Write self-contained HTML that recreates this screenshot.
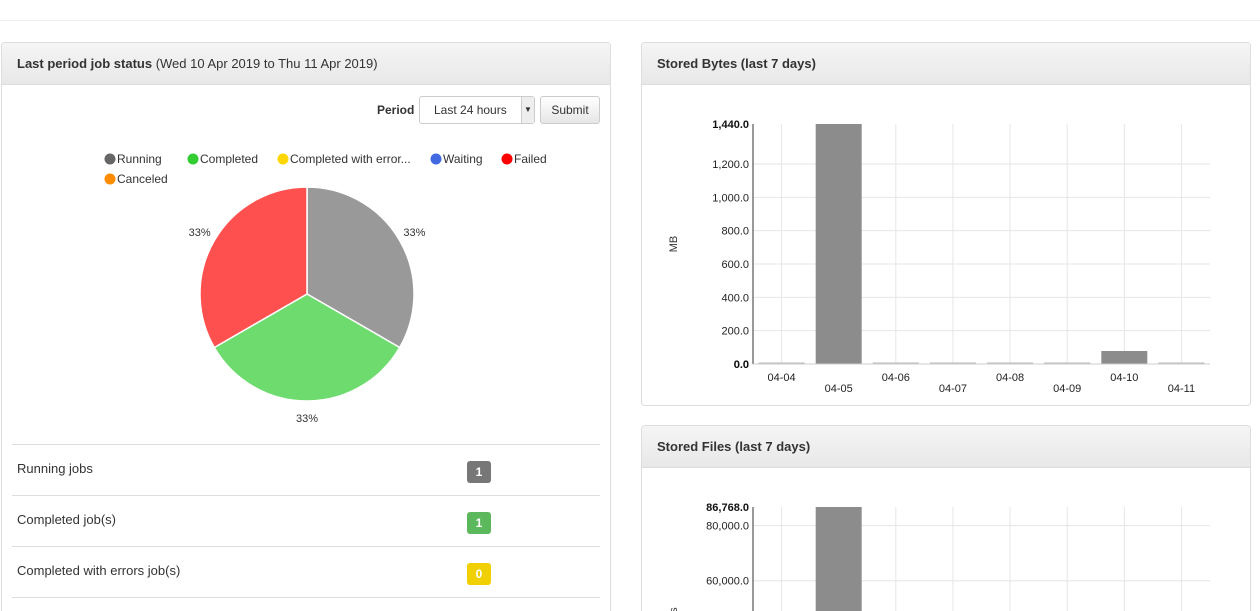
<!DOCTYPE html>
<html><head><meta charset="utf-8"><style>
html,body{margin:0;width:1260px;height:611px;overflow:hidden;background:#fff;font-family:"Liberation Sans",sans-serif;color:#333;position:relative}
.panel{position:absolute;border:1px solid #ddd;border-radius:4px;background:#fff;box-sizing:border-box;overflow:hidden}
.ph{height:41px;background:linear-gradient(#f5f5f5,#e8e8e8);border-bottom:1px solid #ddd;font-size:13px;line-height:41px;padding-left:15px;color:#333}
.ph b{font-weight:bold}
.row{position:absolute;left:10px;width:588px;border-top:1px solid #ddd;height:51px;font-size:13px}
.row span{position:absolute;left:5px;top:16px}
.badge{position:absolute;left:455px;top:16px;width:24px;height:22px;border-radius:3px;color:#fff;font-weight:bold;font-size:12px;text-align:center;line-height:22px}
svg text{font-family:"Liberation Sans",sans-serif}
</style></head><body>
<div style="position:absolute;left:0;top:20px;width:1260px;border-top:1px solid #eee"></div>

<div class="panel" style="left:1px;top:42px;width:610px;height:569px;border-bottom:none;border-radius:4px 4px 0 0">
<div class="ph"><b>Last period job status</b> (Wed 10 Apr 2019 to Thu 11 Apr 2019)</div>
<div style="position:absolute;left:375px;top:60px;font-size:12px;font-weight:bold">Period</div>
<div style="position:absolute;left:417px;top:53px;width:116px;height:28px;border:1px solid #ccc;border-radius:3px;box-sizing:border-box;font-size:12px;line-height:26px;padding-left:14px">Last 24 hours<div style="position:absolute;right:0;top:0;width:12px;height:26px;border-left:1px solid #ccc;background:#eee;font-size:8px;text-align:center">▼</div></div>
<div style="position:absolute;left:538px;top:53px;width:60px;height:28px;border:1px solid #ccc;border-radius:3px;box-sizing:border-box;font-size:12px;line-height:26px;text-align:center;background:linear-gradient(#fff,#e6e6e6)">Submit</div>
<svg width="610" height="400" style="position:absolute;left:0;top:0" id="pie"></svg>
<div class="row" style="top:401px"><span>Running jobs</span><div class="badge" style="background:#777">1</div></div>
<div class="row" style="top:452px"><span>Completed job(s)</span><div class="badge" style="background:#5cb85c">1</div></div>
<div class="row" style="top:503px"><span>Completed with errors job(s)</span><div class="badge" style="background:#f0d000">0</div></div>
<div class="row" style="top:554px;height:10px"></div>
</div>

<div class="panel" style="left:641px;top:42px;width:610px;height:364px">
<div class="ph"><b>Stored Bytes (last 7 days)</b></div>
</div>
<div class="panel" style="left:641px;top:425px;width:610px;height:186px;border-bottom:none;border-radius:4px 4px 0 0">
<div class="ph"><b>Stored Files (last 7 days)</b></div>
</div>
<svg id="charts" width="1260" height="611" style="position:absolute;left:0;top:0"></svg>

<script>
const pieLabels=["Running","Completed","Completed with error...","Waiting","Failed","Canceled"];
const pieColors=["#666","#33cc33","#ffd700","#4169e1","#ff0000","#ff8c00"];
const pieSliceColors=["#999","#6ddb6d","#ffe24d","#6f8ee8","#ff5050","#ffa040"];
const pieValues=[1,1,0,0,1,0];
const categories=["04-04","04-05","04-06","04-07","04-08","04-09","04-10","04-11"];
const bytesValues=[5,1440,5,5,5,5,78,5];
const bytesTicks=[0,200,400,600,800,1000,1200];
const bytesMax=1440;
const filesValues=[0,86768,0,0,0,0,0,0];
const filesTicks=[60000,80000];
const filesMax=86768;

const NS="http://www.w3.org/2000/svg";
function mk(p,t,a,txt){const e=document.createElementNS(NS,t);for(const k in a)e.setAttribute(k,a[k]);if(txt!==undefined)e.textContent=txt;p.appendChild(e);return e;}
const pie=document.getElementById('pie');
const legPos=[[102,116],[185,116],[275,116],[428,116],[499,116],[102,136]];
pieLabels.forEach((l,i)=>{
  const g=mk(pie,'g',{});
  
  
  mk(g,'circle',{cx:legPos[i][0]+6,cy:legPos[i][1],r:5.5,fill:pieColors[i]});
  mk(g,'text',{x:legPos[i][0]+13,y:legPos[i][1]+4,'font-size':12,fill:'#333'},l);
});
const cx=305,cy=251,R=107;
const total=pieValues.reduce((a,b)=>a+b,0);
let ang=0;
pieValues.forEach((v,i)=>{
  if(!v)return;
  const a0=ang,a1=ang+v/total*2*Math.PI;ang=a1;
  const p=(a)=>[cx+R*Math.sin(a),cy-R*Math.cos(a)];
  const [x0,y0]=p(a0),[x1,y1]=p(a1);
  const s=mk(pie,'path',{d:`M${cx},${cy}L${x0},${y0}A${R},${R} 0 ${a1-a0>Math.PI?1:0} 1 ${x1},${y1}Z`,fill:pieSliceColors[i],stroke:'#fff','stroke-width':1.5});
  
  
  const am=(a0+a1)/2;const lr=R+17;
  const t=mk(pie,'text',{x:cx+lr*Math.sin(am),y:cy-lr*Math.cos(am)+4,'font-size':11,'text-anchor':'middle',fill:'#333'},Math.round(v/total*100)+'%');
  
  
});
const svg=document.getElementById('charts');
function bar(opt){
  const {x0,x1,yTop,y0,max,vals,ticks,title,showX,titleY}=opt;
  const yB=Math.min(y0,611);
  const sy=v=>y0-(v/max)*(y0-yTop);
  const step=(x1-x0)/categories.length;
  const sx=i=>x0+step*(i+0.5);
  categories.forEach((c,i)=>mk(svg,'line',{x1:sx(i),x2:sx(i),y1:yTop,y2:yB,stroke:'#e6e6e6'}));
  ticks.forEach(t=>{
    mk(svg,'line',{x1:x0,x2:x1,y1:sy(t),y2:sy(t),stroke:'#e6e6e6'});
    const tt=mk(svg,'text',{x:x0-4,y:sy(t)+4,'font-size':11,'text-anchor':'end',fill:'#222'},t.toLocaleString('en-US',{minimumFractionDigits:1}));
    
    
  });
  const mt=mk(svg,'text',{x:x0-4,y:yTop+4,'font-size':11,'font-weight':'bold','text-anchor':'end',fill:'#111'},max.toLocaleString('en-US',{minimumFractionDigits:1}));
  
  
  vals.forEach((v,i)=>{
    const top=Math.min(sy(v),y0-1.5);
    const b=mk(svg,'rect',{x:sx(i)-23,y:top,width:46,height:Math.max(yB-top,0),fill:v/max>0.02?'#8c8c8c':'#bbb'});
    
    
  });
  mk(svg,'line',{x1:x0,x2:x0,y1:yTop,y2:yB,stroke:'#333'});
  if(showX){
    mk(svg,'line',{x1:x0,x2:x1,y1:y0,y2:y0,stroke:'#ccc'});
    const zt=mk(svg,'text',{x:x0-4,y:y0+4,'font-size':11,'font-weight':'bold','text-anchor':'end',fill:'#111'},'0.0');
    
    
    categories.forEach((c,i)=>{
      const t=mk(svg,'text',{x:sx(i),y:y0+(i%2?28:17),'font-size':11,'text-anchor':'middle',fill:'#222'},c);
      
      
    });
  }
  const yt=mk(svg,'text',{x:0,y:0,'font-size':11,'text-anchor':'middle',fill:'#333',transform:`translate(677,${titleY}) rotate(-90)`},title);
  
  
}
bar({x0:753,x1:1210,yTop:124,y0:364,max:bytesMax,vals:bytesValues,ticks:bytesTicks,title:'MB',showX:true,titleY:244});
bar({x0:753,x1:1210,yTop:507,y0:746,max:filesMax,vals:filesValues,ticks:filesTicks,title:'Files',showX:false,titleY:619});
</script>
</body></html>
